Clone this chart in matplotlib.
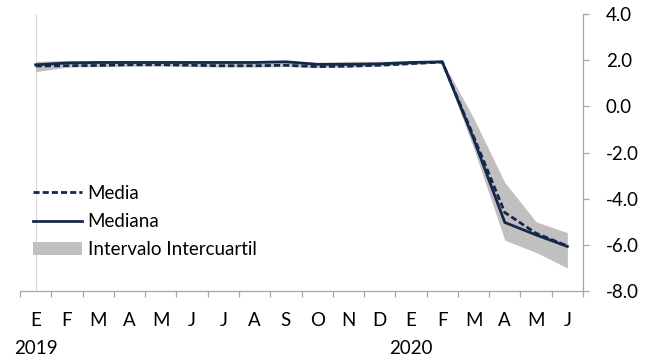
import matplotlib.pyplot as plt
import numpy as np

plt.rcParams['font.family'] = ['Lato', 'DejaVu Sans']

months = ['E', 'F', 'M', 'A', 'M', 'J', 'J', 'A', 'S', 'O', 'N', 'D',
          'E', 'F', 'M', 'A', 'M', 'J']
years = ['2019', '2020']
year_pos = [0, 12]

media = [1.75, 1.76, 1.77, 1.80, 1.80, 1.78, 1.76, 1.76, 1.78, 1.72, 1.74, 1.78,
         1.85, 1.92, -1.3, -4.6, -5.5, -6.05]
mediana = [1.80, 1.88, 1.90, 1.90, 1.90, 1.90, 1.90, 1.90, 1.93, 1.82, 1.82, 1.84,
           1.90, 1.93, -1.4, -5.03, -5.57, -6.07]
q_low = [1.50, 1.70, 1.72, 1.74, 1.75, 1.72, 1.70, 1.70, 1.72, 1.68, 1.70, 1.75,
         1.82, 1.88, -1.8, -5.8, -6.33, -7.0]
q_high = [1.95, 1.98, 1.98, 1.98, 1.98, 1.98, 1.97, 1.97, 1.98, 1.90, 1.95, 1.95,
          1.97, 1.97, -0.5, -3.3, -5.0, -5.47]

navy = '#14284b'
grey_axis = '#a6a6a6'
fs = 13.5

x = np.arange(len(months))

fig = plt.figure(figsize=(6.52, 3.6), dpi=100)
ax = fig.add_axes([20/652, 69/360, 563/652, 277/360])

band = ax.fill_between(x, q_low, q_high, color='#c0c0c0', lw=0, label='Intervalo Intercuartil')
l1, = ax.plot(x, media, color=navy, lw=2.0, ls=(0, (2.2, 1.1)), label='Media')
l2, = ax.plot(x, mediana, color=navy, lw=2.0, label='Mediana')

ax.set_xlim(-0.5, len(months) - 0.5)
ax.set_ylim(-8, 4)

# light vertical axis at first category
ax.axvline(0, color='#d9d9d9', lw=0.8, zorder=0)

ax.yaxis.tick_right()
yt = np.arange(-8, 4.1, 2)
ax.set_yticks(yt)
ax.set_yticklabels(['%.1f' % v for v in yt], fontsize=fs)
ax.tick_params(axis='y', direction='out', length=4.5, color=grey_axis, width=0.9, pad=12)

ax.set_xticks(np.arange(-0.5, len(months), 1))
ax.set_xticklabels([])
ax.tick_params(axis='x', direction='out', length=4, color=grey_axis, width=0.9)
for i, m in enumerate(months):
    ax.text(i, -9.26, m, ha='center', va='center', fontsize=fs)
for p, yl in zip(year_pos, years):
    ax.text(p, -10.5, yl, ha='center', va='center', fontsize=fs, clip_on=False)

for s in ['left', 'top']:
    ax.spines[s].set_visible(False)
for s in ['right', 'bottom']:
    ax.spines[s].set_color(grey_axis)
    ax.spines[s].set_linewidth(0.9)

ax.legend(handles=[l1, l2, band], loc='upper left', bbox_to_anchor=(0.01, 0.41),
          frameon=False, fontsize=fs, handlelength=2.6, handleheight=0.7,
          labelspacing=0.6, borderaxespad=0.0, handletextpad=0.3)

fig.savefig('out.png', dpi=100)
